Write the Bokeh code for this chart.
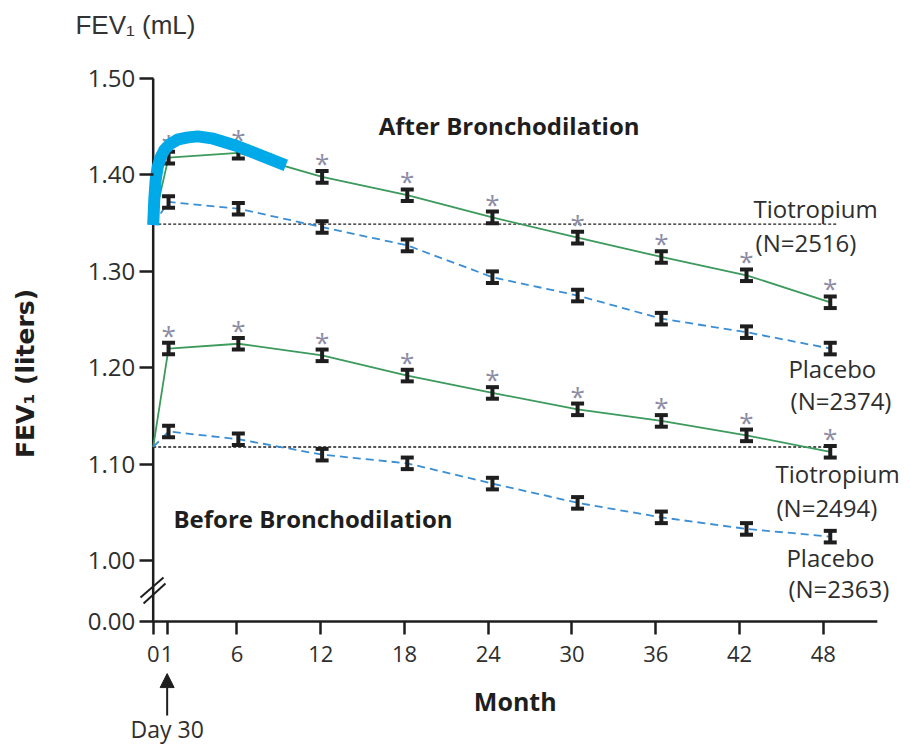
from bokeh.plotting import figure
from bokeh.models import (Range1d, FixedTicker, CustomJSTickFormatter, Label,
                          Arrow, NormalHead, LinearAxis)
from bokeh.core.properties import value
from bokeh.embed import file_html
from bokeh.resources import INLINE

# ---- data -----------------------------------------------------------------
# visit times (months); first entry is the baseline visit
visit_month = [0, 1.1, 6.1, 12.1, 18.2, 24.3, 30.4, 36.4, 42.5, 48.5]

# mean FEV1 (liters) after bronchodilation
post_tiotropium = [1.349, 1.418, 1.423, 1.398, 1.379, 1.356, 1.335, 1.315, 1.296, 1.268]
post_placebo = [1.349, 1.372, 1.365, 1.346, 1.327, 1.294, 1.275, 1.251, 1.237, 1.220]

# mean FEV1 (liters) before bronchodilation
pre_tiotropium = [1.118, 1.220, 1.225, 1.213, 1.192, 1.174, 1.157, 1.145, 1.130, 1.113]
pre_placebo = [1.118, 1.134, 1.126, 1.110, 1.101, 1.080, 1.060, 1.045, 1.033, 1.025]

# standard errors at follow-up visits
post_tiotropium_se = [0.006, 0.006, 0.006, 0.006, 0.006, 0.006, 0.006, 0.006, 0.006]
post_placebo_se = [0.006, 0.006, 0.006, 0.006, 0.006, 0.006, 0.006, 0.006, 0.006]
pre_tiotropium_se = [0.006, 0.006, 0.006, 0.006, 0.006, 0.006, 0.006, 0.006, 0.006]
pre_placebo_se = [0.006, 0.006, 0.006, 0.006, 0.006, 0.006, 0.006, 0.006, 0.006]

# baseline reference levels
post_baseline = 1.349
pre_baseline = 1.118

# tick values and labels
x_ticks = [0, 1, 6, 12, 18, 24, 30, 36, 42, 48]
x_axis_end = 51.87
y_zero_pos = 0.937  # position of the "0.00" tick below the axis break
y_ticks = [y_zero_pos, 1.0, 1.1, 1.2, 1.3, 1.4, 1.5]
y_axis_top = 1.5

# highlighted early-response stroke (month, liters)
hl_month = [0.0, 0.08, 0.18, 0.32, 0.52, 0.8, 1.2, 1.8, 2.5, 3.2, 4.2, 6.0, 9.5]
hl_value = [1.348, 1.375, 1.395, 1.408, 1.418, 1.426, 1.432, 1.437, 1.439, 1.440, 1.438, 1.430, 1.410]

# ---- styling ----------------------------------------------------------------
GREEN = "#3b9a5c"
BLUE = "#3a8ed4"
INK = "#1e1e1e"
TEXT = "#2e2e2e"
STAR = "#8c8ca4"
FONT = "Open Sans"

# the frame fills the whole canvas; axes are pinned at fixed data locations
p = figure(width=910, height=746, output_backend="svg", toolbar_location=None,
           x_range=Range1d(-10.938, 54.248), y_range=Range1d(0.8074, 1.5809),
           x_axis_type=None, y_axis_type=None, min_border=0)
p.outline_line_color = None
p.background_fill_color = "white"
p.border_fill_color = "white"

xaxis = LinearAxis(fixed_location=y_zero_pos)
yaxis = LinearAxis(fixed_location=0)
p.add_layout(xaxis, "below")
p.add_layout(yaxis, "left")

for ax in (xaxis, yaxis):
    ax.axis_line_color = None
    ax.major_tick_line_width = 2.5
    ax.major_tick_line_color = INK
    ax.major_tick_in = 0
    ax.minor_tick_line_color = None
    ax.major_label_text_font = FONT
    ax.major_label_text_color = TEXT
    ax.axis_label_text_color = INK
    ax.axis_label_text_font_style = "bold"

xaxis.ticker = FixedTicker(ticks=x_ticks)
xaxis.major_tick_out = 13
xaxis.major_label_standoff = 11
xaxis.major_label_text_font_size = "22px"

yaxis.ticker = FixedTicker(ticks=y_ticks)
yaxis.formatter = CustomJSTickFormatter(
    code="return tick < 0.99 ? '0.00' : tick.toFixed(2);")
yaxis.major_tick_out = 14
yaxis.major_label_standoff = 4
yaxis.major_label_text_font_size = "24px"
yaxis.axis_label = "FEV\u2081 (liters)"
yaxis.axis_label_text_font = "DejaVu Sans"
yaxis.axis_label_text_font_size = "25px"
yaxis.axis_label_standoff = 45

# axis lines, limited to the plotted span
p.segment(x0=[0, 0], y0=[y_zero_pos, y_zero_pos], x1=[x_axis_end, 0], y1=[y_zero_pos, y_axis_top],
          line_color=INK, line_width=2.5)

# axis break marks between 1.00 and 0.00
p.segment(x0=[-0.91, -0.69], y0=[0.9619, 0.9557], x1=[0.74, 0.88], y1=[0.9826, 0.9764],
          line_color=INK, line_width=2)

# ---- baseline reference lines ---------------------------------------------
p.segment(x0=[0], y0=[post_baseline], x1=[49.0], y1=[post_baseline],
          line_color=INK, line_width=1.4, line_dash="3 2")
p.segment(x0=[0], y0=[pre_baseline], x1=[48.5], y1=[pre_baseline],
          line_color=INK, line_width=1.4, line_dash="3 2")

# ---- series lines ------------------------------------------------------------
for ys in (post_tiotropium, pre_tiotropium):
    p.line(visit_month, ys, line_color=GREEN, line_width=1.8)
for ys in (post_placebo, pre_placebo):
    p.line(visit_month, ys, line_color=BLUE, line_width=1.8, line_dash="8 5")

# ---- error bars (follow-up visits only) ---------------------------------------
fx = visit_month[1:]
for ys, se in ((post_tiotropium, post_tiotropium_se), (post_placebo, post_placebo_se),
               (pre_tiotropium, pre_tiotropium_se), (pre_placebo, pre_placebo_se)):
    yv = ys[1:]
    lo = [v - e for v, e in zip(yv, se)]
    hi = [v + e for v, e in zip(yv, se)]
    p.segment(x0=fx, y0=lo, x1=fx, y1=hi, line_color=INK, line_width=4)
    p.scatter(fx, lo, marker="dash", size=13, line_color=INK, line_width=4)
    p.scatter(fx, hi, marker="dash", size=13, line_color=INK, line_width=4)

# significance marks above tiotropium points
for ys, se in ((post_tiotropium, post_tiotropium_se), (pre_tiotropium, pre_tiotropium_se)):
    p.text(x=fx, y=[v + e for v, e in zip(ys[1:], se)], text=["*"] * len(fx),
           text_font=value(FONT), text_font_size="26px", text_color=STAR,
           text_align="center", text_baseline="middle", y_offset=-8)

# ---- highlighted stroke ------------------------------------------------------
p.line(hl_month, hl_value, line_color="#00a9e8", line_width=12,
       line_join="round", line_cap="butt")

# ---- text annotations ----------------------------------------------------
def add_text(txt, x, y, size="24px", font=FONT, style="normal", align="left", color=TEXT):
    p.add_layout(Label(x=x, y=y, text=txt, text_font=font, text_font_size=size,
                       text_font_style=style, text_color=color,
                       text_align=align, text_baseline="middle"))

add_text("After Bronchodilation", 16.15, 1.4513, size="24px", style="bold", color=INK)
add_text("Before Bronchodilation", 1.45, 1.0438, size="24px", style="bold", color=INK)

add_text("Tiotropium", 43.0, 1.3652)
add_text("(N=2516)", 43.15, 1.3303)
add_text("Placebo", 45.5, 1.1993)
add_text("(N=2374)", 45.66, 1.1661)
add_text("Tiotropium", 44.58, 1.0901)
add_text("(N=2494)", 44.65, 1.0555)
add_text("Placebo", 45.36, 1.0037)
add_text("(N=2363)", 45.5, 0.9712)

# x-axis title, centred under the plotted span of the axis
add_text("Month", x_axis_end / 2, 0.8545, size="25px", style="bold", align="center", color=INK)

add_text("FEV\u2081 (mL)", -5.57, 1.556, size="26px", font="Liberation Sans", color="#333333")

add_text("Day 30", 1.0, 0.8255, size="23px", align="center")
p.add_layout(Arrow(end=NormalHead(size=14, fill_color=INK, line_color=INK),
                   x_start=1.0, y_start=0.8395, x_end=1.0, y_end=0.883,
                   line_color=INK, line_width=2))

open("out.html", "w").write(file_html(p, INLINE))
